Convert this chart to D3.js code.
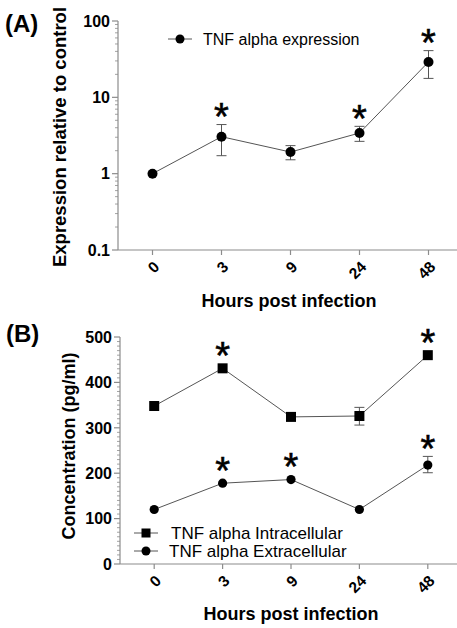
<!DOCTYPE html>
<html>
<head>
<meta charset="utf-8">
<script src="https://cdn.jsdelivr.net/npm/d3@7"></script>
<style>
  body { margin: 0; background: #fff; }
  text { font-family: "Liberation Sans", Arial, sans-serif; }
</style>
</head>
<body>
<svg id="chart" width="457" height="628"></svg>
<script>
// shared categories
const hours = ['0', '3', '9', '24', '48'];

// panel A - relative expression (log axis)
const expr = [1, 3.05, 1.92, 3.41, 29.1];
const exprLo = [null, 1.72, 1.52, 2.65, 17.7];
const exprHi = [null, 4.4, 2.33, 4.17, 40.9];
const exprStar = [false, true, false, true, true];
const logTicks = [0.1, 1, 10, 100];

// panel B - concentration
const intra = [348, 431, 324, 326, 460];
const intraLo = [null, null, null, 306, null];
const intraHi = [null, null, null, 345, null];
const intraStar = [false, true, false, false, true];
const extra = [120, 178, 186, 120, 218];
const extraLo = [null, null, null, null, 201];
const extraHi = [null, null, null, null, 237];
const extraStar = [false, true, true, false, true];
const concTicks = [0, 100, 200, 300, 400, 500];

const svg = d3.select('#chart');
const axisCol = '#8c8c8c';
const lineCol = '#555';

function drawAxes(g, x, y, yTicks, minorTicks, fmt) {
  const [x0] = x.range();
  const yb = y.range()[0];
  // x axis
  g.append('line').attr('x1', x0).attr('x2', 457).attr('y1', yb).attr('y2', yb)
    .attr('stroke', axisCol).attr('stroke-width', 1.2);
  hours.forEach(h => {
    const cx = x(h) + x.bandwidth() / 2;
    g.append('line').attr('x1', cx).attr('x2', cx).attr('y1', yb).attr('y2', yb + 5)
      .attr('stroke', axisCol).attr('stroke-width', 1.2);
    g.append('text').attr('transform', `translate(${cx + 4},${yb + 14}) rotate(-45)`)
      .attr('text-anchor', 'end').attr('dominant-baseline', 'central')
      .attr('font-size', 15.5).attr('font-weight', 'bold').text(h);
  });
  // y axis
  g.append('line').attr('x1', x0).attr('x2', x0).attr('y1', y.range()[1]).attr('y2', yb)
    .attr('stroke', axisCol).attr('stroke-width', 1.2);
  minorTicks.forEach(v => {
    g.append('line').attr('x1', x0 - 3).attr('x2', x0).attr('y1', y(v)).attr('y2', y(v))
      .attr('stroke', axisCol).attr('stroke-width', 0.8);
  });
  yTicks.forEach(v => {
    g.append('line').attr('x1', x0 - 6).attr('x2', x0).attr('y1', y(v)).attr('y2', y(v))
      .attr('stroke', axisCol).attr('stroke-width', 1.2);
    g.append('text').attr('x', x0 - 8).attr('y', y(v)).attr('dy', '0.36em')
      .attr('text-anchor', 'end').attr('font-size', 16).attr('font-weight', 'bold').text(fmt(v));
  });
}

function drawSeries(g, x, y, vals, lo, hi, stars, shape) {
  const cx = h => x(h) + x.bandwidth() / 2;
  g.append('path').datum(vals)
    .attr('d', d3.line().x((d, i) => cx(hours[i])).y(d => y(d)))
    .attr('fill', 'none').attr('stroke', lineCol).attr('stroke-width', 1);
  vals.forEach((v, i) => {
    const px = cx(hours[i]);
    if (lo[i] != null) {
      g.append('line').attr('x1', px).attr('x2', px).attr('y1', y(lo[i])).attr('y2', y(hi[i]))
        .attr('stroke', lineCol).attr('stroke-width', 1);
      [lo[i], hi[i]].forEach(e => g.append('line').attr('x1', px - 5).attr('x2', px + 5)
        .attr('y1', y(e)).attr('y2', y(e)).attr('stroke', lineCol).attr('stroke-width', 1));
    }
    if (shape === 'square') {
      g.append('rect').attr('x', px - 5).attr('y', y(v) - 5).attr('width', 10).attr('height', 10).attr('fill', '#000');
    } else {
      g.append('circle').attr('cx', px).attr('cy', y(v)).attr('r', shape === 'big' ? 5 : 4.6).attr('fill', '#000');
    }
    if (stars[i]) {
      const top = Math.min(hi[i] != null ? y(hi[i]) : Infinity, y(v) - 5);
      const c = top - 16;
      g.append('text').attr('x', px).attr('y', c + 0.57 * 38).attr('text-anchor', 'middle')
        .attr('font-size', 38).attr('stroke', '#000').attr('stroke-width', 0.6).text('*');
    }
  });
}

function legendItem(g, lx, ly, label, shape, tx, fs) {
  g.append('line').attr('x1', lx - 12).attr('x2', lx + 12).attr('y1', ly).attr('y2', ly)
    .attr('stroke', lineCol).attr('stroke-width', 1);
  if (shape === 'square') {
    g.append('rect').attr('x', lx - 4.5).attr('y', ly - 4.5).attr('width', 9).attr('height', 9).attr('fill', '#000');
  } else {
    g.append('circle').attr('cx', lx).attr('cy', ly).attr('r', 4.5).attr('fill', '#000');
  }
  g.append('text').attr('x', tx).attr('y', ly).attr('dy', '0.36em')
    .attr('font-size', fs).text(label);
}

// ---- panel A
const gA = svg.append('g');
const xA = d3.scaleBand().domain(hours).range([118, 463]);
const yA = d3.scaleLog().domain([0.1, 100]).range([250, 21]);
const minorA = [];
[0.1, 1, 10].forEach(d => d3.range(2, 10).forEach(m => minorA.push(d * m)));
drawAxes(gA, xA, yA, logTicks, minorA, d => String(d));
drawSeries(gA, xA, yA, expr, exprLo, exprHi, exprStar, 'big');
legendItem(gA, 180, 39, 'TNF alpha expression', 'circle', 203, 16);
gA.append('text').attr('x', 5).attr('y', 32).attr('font-size', 24).attr('font-weight', 'bold').text('(A)');
gA.append('text').attr('transform', 'translate(66,137) rotate(-90)').attr('text-anchor', 'middle')
  .attr('font-size', 18.5).attr('font-weight', 'bold').text('Expression relative to control');
gA.append('text').attr('x', 289).attr('y', 307).attr('text-anchor', 'middle')
  .attr('font-size', 18).attr('font-weight', 'bold').text('Hours post infection');

// ---- panel B
const gB = svg.append('g');
const xB = d3.scaleBand().domain(hours).range([120, 462]);
const yB = d3.scaleLinear().domain([0, 500]).range([564, 337]);
const minorB = d3.range(0, 500, 10).filter(v => v % 100 !== 0);
drawAxes(gB, xB, yB, concTicks, minorB, d => String(d));
drawSeries(gB, xB, yB, intra, intraLo, intraHi, intraStar, 'square');
drawSeries(gB, xB, yB, extra, extraLo, extraHi, extraStar, 'circle');
legendItem(gB, 146, 533, 'TNF alpha Intracellular', 'square', 171, 17);
legendItem(gB, 146, 551, 'TNF alpha Extracellular', 'circle', 169, 17);
gB.append('text').attr('x', 6).attr('y', 342).attr('font-size', 24).attr('font-weight', 'bold').text('(B)');
gB.append('text').attr('transform', 'translate(75,446) rotate(-90)').attr('text-anchor', 'middle')
  .attr('font-size', 18).attr('font-weight', 'bold').text('Concentration (pg/ml)');
gB.append('text').attr('x', 291).attr('y', 620).attr('text-anchor', 'middle')
  .attr('font-size', 18).attr('font-weight', 'bold').text('Hours post infection');
</script>
</body>
</html>
